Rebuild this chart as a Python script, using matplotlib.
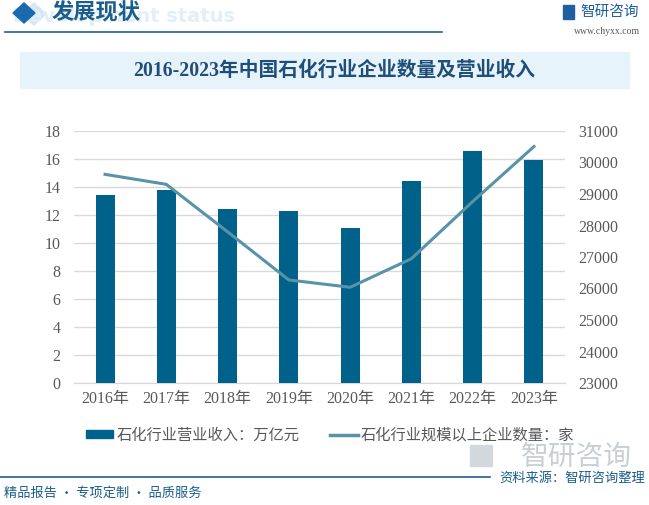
import matplotlib
matplotlib.use("Agg")
import matplotlib.pyplot as plt
from matplotlib.patches import Rectangle, Polygon
from matplotlib.lines import Line2D

years = ["2016年", "2017年", "2018年", "2019年", "2020年", "2021年", "2022年", "2023年"]
revenue = [13.4, 13.8, 12.4, 12.3, 11.1, 14.4, 16.6, 15.9]          # 万亿元
enterprises = [29624, 29307, 27800, 26271, 26039, 26947, 28760, 30507]  # 家

left_ticks = [0, 2, 4, 6, 8, 10, 12, 14, 16, 18]
right_ticks = [23000, 24000, 25000, 26000, 27000, 28000, 29000, 30000, 31000]

BAR = "#00618A"
LINE = "#5A92A8"
DARK = "#1B5E8C"
GREY = "#595959"
CJK = ["Noto Sans CJK SC", "DejaVu Sans"]
SER = ["Liberation Serif", "Noto Sans CJK SC"]

W, H = 649, 505
fig = plt.figure(figsize=(W / 100, H / 100), dpi=100)

def fx(px):
    return px / W

def fy(py):
    return 1 - py / H

# ---- header ----
fig.add_artist(Polygon([[fx(22), fy(14)], [fx(34), fy(3)], [fx(46), fy(14)], [fx(34), fy(25)]],
                       closed=True, color="#D5E7F4", transform=fig.transFigure, zorder=0))
fig.add_artist(Polygon([[fx(13), fy(13)], [fx(24), fy(3)], [fx(35), fy(13)], [fx(24), fy(23)]],
                       closed=True, color="#1A6AAE", transform=fig.transFigure))
fig.text(fx(235), fy(17), "Development status", fontsize=14, fontweight="bold",
         color="#E3EEF6", va="center", ha="right", family="DejaVu Sans", zorder=0)
fig.text(fx(52), fy(13), "发展现状", fontsize=16, fontweight="bold", color=DARK,
         va="center", ha="left", family=CJK)
fig.add_artist(Line2D([fx(5), fx(442)], [fy(32), fy(32)], color="#1F5F8F", lw=1.2,
                      transform=fig.transFigure))
fig.add_artist(Rectangle((fx(563), fy(19)), fx(11), 14 / H, color="#1F5F9F",
                         transform=fig.transFigure))
fig.text(fx(580), fy(12), "智研咨询", fontsize=10.5, color="#1F5F9F", va="center",
         ha="left", family=CJK)
fig.text(fx(640), fy(31), "www.chyxx.com", fontsize=7, color=GREY, va="center",
         ha="right", family="Liberation Serif")

# ---- title box ----
fig.add_artist(Rectangle((fx(20), fy(88)), fx(609), 36 / H, color="#E6F3FB",
                         transform=fig.transFigure, zorder=0))
fig.text(fx(334), fy(71), "2016-2023年中国石化行业企业数量及营业收入", fontsize=14.2,
         fontweight="bold", color="#1F4E79", va="center", ha="center", family=SER)

# ---- chart ----
ax = fig.add_axes([74.4 / W, 1 - 383 / H, (564.6 - 74.4) / W, (383 - 131) / H])
x = list(range(len(years)))
ax.bar(x, revenue, width=0.31, color=BAR, zorder=3)
ax.set_xlim(-0.5, len(years) - 0.5)
ax.set_ylim(0, 18)
ax.set_yticks(left_ticks)
ax.set_xticks(x)
ax.set_xticklabels(years)
ax.grid(axis="y", color="#D9D9D9", lw=1, zorder=0)
for s in ["top", "right", "left"]:
    ax.spines[s].set_visible(False)
ax.spines["bottom"].set_color("#D9D9D9")
ax.tick_params(length=0, colors=GREY, labelsize=11.5)
ax.tick_params(axis="y", pad=10)
ax.tick_params(axis="x", pad=6)
for lab in ax.get_xticklabels() + ax.get_yticklabels():
    lab.set_family(SER)

ax2 = ax.twinx()
ax2.plot(x, enterprises, color=LINE, lw=2.2, zorder=4)
ax2.set_ylim(23000, 31000)
ax2.set_yticks(right_ticks)
for s in ["top", "right", "left", "bottom"]:
    ax2.spines[s].set_visible(False)
ax2.tick_params(length=0, colors=GREY, labelsize=11.5, pad=10)
for lab in ax2.get_yticklabels():
    lab.set_family(SER)

# ---- legend ----
handles = [Rectangle((0, 0), 1, 1, color=BAR), Line2D([0], [0], color=LINE, lw=2.5)]
fig.legend(handles, ["石化行业营业收入：万亿元", "石化行业规模以上企业数量：家"],
           loc="center", bbox_to_anchor=(fx(330), fy(435)), ncol=2, frameon=False,
           prop={"family": CJK, "size": 11}, labelcolor=GREY, handlelength=1.8,
           handleheight=0.5, handletextpad=0.2, columnspacing=2.0)

# ---- footer ----
fig.add_artist(Rectangle((fx(470), fy(466)), fx(22), 21 / H, color="#D3D8DE",
                         transform=fig.transFigure, zorder=0))
fig.text(fx(632), fy(457), "智研咨询", fontsize=20, color="#C9CFD6", va="center",
         ha="right", family=CJK, zorder=0)
fig.add_artist(Line2D([0, fx(490)], [fy(477), fy(477)], color="#1F5F8F", lw=1.2,
                      transform=fig.transFigure))
fig.text(fx(645), fy(478), "资料来源：智研咨询整理", fontsize=9.5, color=DARK, va="center",
         ha="right", family=CJK,
         bbox=dict(boxstyle="square,pad=0.1", fc="white", ec="none"))
fig.text(fx(4), fy(493), "精品报告 · 专项定制 · 品质服务", fontsize=9.5, color=DARK,
         va="center", ha="left", family=CJK)

fig.savefig("out.png", dpi=100)
